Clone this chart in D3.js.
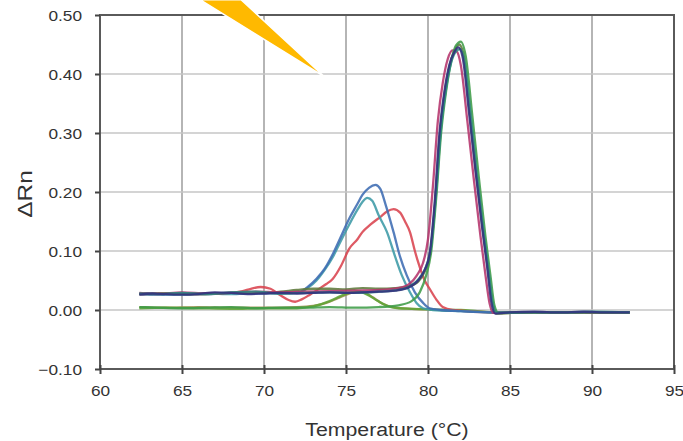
<!DOCTYPE html>
<html>
<head>
<meta charset="utf-8">
<script src="https://cdn.jsdelivr.net/npm/d3@7"></script>
<style>
  body { margin: 0; background: #fff; }
  svg text { font-family: "Liberation Sans", Arial, sans-serif; fill: #333; }
</style>
</head>
<body>
<div class="chart"></div>
<script>
// tick labels
const xTicks = [60, 65, 70, 75, 80, 85, 90, 95]
const yTicks = [-0.10, 0.00, 0.10, 0.20, 0.30, 0.40, 0.50]

// 高峰曲線 (specific product, Tm ~81.8)
const tempNavyBig = [62.4, 63.2, 64.0, 65.0, 66.0, 67.0, 68.0, 69.0, 70.0, 71.0, 72.0, 73.0, 74.0, 75.0, 76.0, 77.0, 78.0, 78.8, 79.4, 79.8, 80.1, 80.4, 80.7, 81.0, 81.3, 81.6, 81.85, 82.1, 82.5, 82.9, 83.3, 83.6, 83.85, 84.1, 85.0, 86.5, 88.0, 89.5, 91.0, 92.3]
const dRnNavyBig  = [0.026, 0.028, 0.027, 0.026, 0.027, 0.030, 0.029, 0.027, 0.028, 0.029, 0.028, 0.029, 0.030, 0.029, 0.030, 0.031, 0.033, 0.038, 0.050, 0.068, 0.095, 0.180, 0.300, 0.370, 0.415, 0.437, 0.445, 0.430, 0.335, 0.235, 0.140, 0.075, 0.015, -0.006, -0.004, -0.003, -0.004, -0.003, -0.004, -0.004]

const tempTealBig = [62.4, 63.5, 65.0, 66.5, 68.0, 69.5, 71.0, 72.5, 74.0, 75.5, 77.0, 78.2, 79.0, 79.5, 79.9, 80.2, 80.5, 80.8, 81.1, 81.4, 81.7, 81.95, 82.2, 82.6, 83.0, 83.4, 83.7, 83.95, 84.2, 86.0, 88.0, 90.0, 92.3]
const dRnTealBig  = [0.028, 0.027, 0.029, 0.027, 0.030, 0.031, 0.028, 0.029, 0.030, 0.029, 0.031, 0.034, 0.042, 0.055, 0.075, 0.110, 0.200, 0.310, 0.375, 0.418, 0.438, 0.442, 0.425, 0.330, 0.225, 0.130, 0.065, 0.010, -0.005, -0.004, -0.004, -0.003, -0.004]

const tempGreenBig = [62.4, 63.5, 65.0, 66.5, 68.0, 69.5, 71.0, 72.5, 74.0, 75.5, 77.0, 78.2, 79.0, 79.5, 79.9, 80.2, 80.5, 80.8, 81.1, 81.4, 81.7, 82.0, 82.3, 82.7, 83.1, 83.5, 83.8, 84.05, 84.3, 86.0, 88.0, 90.0, 92.3]
const dRnGreenBig  = [0.005, 0.004, 0.003, 0.004, 0.005, 0.003, 0.004, 0.004, 0.005, 0.004, 0.005, 0.008, 0.015, 0.030, 0.060, 0.100, 0.190, 0.300, 0.370, 0.420, 0.448, 0.455, 0.430, 0.330, 0.225, 0.125, 0.060, 0.008, -0.005, -0.004, -0.004, -0.004, -0.004]

const tempMagentaBig = [62.4, 63.5, 65.0, 66.5, 68.0, 69.5, 71.0, 72.5, 74.0, 75.5, 77.0, 78.2, 78.9, 79.3, 79.7, 80.0, 80.3, 80.6, 80.9, 81.2, 81.5, 81.75, 82.0, 82.4, 82.8, 83.2, 83.5, 83.75, 84.0, 86.0, 88.0, 90.0, 92.3]
const dRnMagentaBig  = [0.029, 0.027, 0.030, 0.028, 0.029, 0.031, 0.030, 0.031, 0.032, 0.033, 0.034, 0.037, 0.045, 0.058, 0.080, 0.120, 0.210, 0.320, 0.385, 0.425, 0.440, 0.438, 0.415, 0.320, 0.220, 0.125, 0.060, 0.012, -0.005, -0.004, -0.004, -0.004, -0.004]

const tempOliveBig = [62.4, 64.0, 66.0, 68.0, 70.0, 71.0, 72.0, 73.0, 74.0, 75.0, 76.0, 77.0, 78.0, 78.8, 79.4, 79.8, 80.1, 80.4, 80.7, 81.0, 81.3, 81.6, 81.9, 82.15, 82.5, 82.9, 83.3, 83.6, 83.9, 84.15, 86.0, 88.0, 90.0, 92.3]
const dRnOliveBig  = [0.027, 0.028, 0.027, 0.029, 0.029, 0.031, 0.034, 0.036, 0.036, 0.035, 0.037, 0.036, 0.037, 0.040, 0.048, 0.065, 0.090, 0.170, 0.290, 0.365, 0.412, 0.438, 0.450, 0.435, 0.345, 0.240, 0.145, 0.080, 0.018, -0.006, -0.004, -0.004, -0.004, -0.004]

// 低峰曲線 (primer-dimer, Tm ~76-78)
const tempBlueLow = [62.4, 63.5, 65.0, 66.5, 68.0, 69.5, 71.0, 72.2, 72.7, 73.2, 73.7, 74.2, 74.7, 75.2, 75.7, 76.0, 76.4, 76.8, 77.1, 77.4, 77.9, 78.3, 78.7, 79.2, 79.7, 80.1, 80.8, 82.0, 84.0, 86.0, 88.0, 90.0, 92.3]
const dRnBlueLow  = [0.027, 0.026, 0.028, 0.027, 0.029, 0.028, 0.030, 0.031, 0.040, 0.053, 0.070, 0.095, 0.125, 0.155, 0.180, 0.195, 0.207, 0.212, 0.205, 0.180, 0.132, 0.090, 0.059, 0.030, 0.012, 0.003, 0.000, -0.002, -0.004, -0.004, -0.004, -0.004, -0.004]

const tempTealLow = [62.4, 63.5, 65.0, 66.5, 68.0, 69.5, 71.0, 72.2, 72.7, 73.2, 73.7, 74.2, 74.7, 75.2, 75.7, 76.0, 76.3, 76.6, 77.0, 77.5, 78.0, 78.4, 78.9, 79.3, 79.7, 80.3, 82.0, 84.0, 86.0, 88.0, 90.0, 92.3]
const dRnTealLow  = [0.028, 0.027, 0.026, 0.028, 0.027, 0.029, 0.028, 0.030, 0.038, 0.050, 0.068, 0.090, 0.118, 0.145, 0.170, 0.183, 0.190, 0.185, 0.160, 0.132, 0.090, 0.059, 0.030, 0.012, 0.003, 0.000, -0.002, -0.004, -0.004, -0.004, -0.004, -0.004]

const tempRedLow = [62.4, 64.0, 66.0, 68.0, 68.7, 69.2, 69.8, 70.4, 71.0, 71.5, 71.9, 72.3, 72.8, 73.3, 73.8, 74.2, 74.7, 75.2, 75.7, 76.0, 76.5, 77.1, 77.5, 77.9, 78.3, 78.6, 78.9, 79.2, 79.4, 79.8, 80.1, 80.5, 80.9, 81.5, 84.0, 86.0, 88.0, 90.0, 92.3]
const dRnRedLow  = [0.027, 0.028, 0.027, 0.029, 0.032, 0.036, 0.039, 0.036, 0.025, 0.017, 0.014, 0.018, 0.026, 0.035, 0.044, 0.053, 0.075, 0.104, 0.120, 0.132, 0.145, 0.158, 0.167, 0.171, 0.165, 0.150, 0.132, 0.100, 0.081, 0.050, 0.036, 0.018, 0.005, 0.000, -0.004, -0.004, -0.004, -0.004, -0.004]

// 小峰 (low baseline with small hump near 75.7)
const tempGreenHump = [62.4, 64.0, 66.0, 68.0, 70.0, 72.0, 73.0, 74.0, 74.7, 75.3, 75.8, 76.3, 76.9, 77.5, 78.2, 79.0, 80.0, 81.0, 82.0, 83.0, 84.0, 86.0, 88.0, 90.0, 92.3]
const dRnGreenHump  = [0.003, 0.004, 0.003, 0.002, 0.003, 0.003, 0.006, 0.015, 0.024, 0.030, 0.031, 0.026, 0.016, 0.007, 0.003, 0.002, 0.001, 0.000, 0.000, -0.002, -0.004, -0.004, -0.004, -0.004, -0.004]

const tempTanHump = [62.4, 64.0, 66.0, 68.0, 70.0, 72.0, 73.0, 73.8, 74.5, 75.1, 75.6, 76.1, 76.6, 77.2, 78.0, 79.0, 80.0, 81.0, 82.0, 84.0, 86.0, 88.0, 90.0, 92.3]
const dRnTanHump  = [0.005, 0.004, 0.005, 0.004, 0.004, 0.005, 0.007, 0.012, 0.020, 0.027, 0.031, 0.030, 0.022, 0.011, 0.004, 0.002, 0.001, 0.000, -0.001, -0.004, -0.004, -0.004, -0.004, -0.004]

// 繪圖順序 + 顏色
const seriesNames  = ['tanHump', 'greenHump', 'redLow', 'tealLow', 'blueLow', 'oliveBig', 'magentaBig', 'greenBig', 'tealBig', 'navyBig']
const seriesTemps  = [tempTanHump, tempGreenHump, tempRedLow, tempTealLow, tempBlueLow, tempOliveBig, tempMagentaBig, tempGreenBig, tempTealBig, tempNavyBig]
const seriesValues = [dRnTanHump, dRnGreenHump, dRnRedLow, dRnTealLow, dRnBlueLow, dRnOliveBig, dRnMagentaBig, dRnGreenBig, dRnTealBig, dRnNavyBig]
const seriesColors = ['#9b8c4c', '#5fa535', '#d9434f', '#3c9aa6', '#3d6cb3', '#5f7a3c', '#b5346c', '#3f9c48', '#2b8a80', '#33307e']

const width = 683, height = 441
const svg = d3.select('.chart').append('svg')
  .attr('width', width)
  .attr('height', height)

const xScale = d3.scaleLinear().domain([60, 95]).range([100, 674])
const yScale = d3.scaleLinear().domain([-0.1, 0.5]).range([369, 15])

// 格線
svg.append('g')
  .selectAll('line')
  .data(xTicks.slice(1, -1))
  .join('line')
  .attr('x1', d => xScale(d)).attr('x2', d => xScale(d))
  .attr('y1', yScale(0.5)).attr('y2', yScale(-0.1))
  .attr('stroke', '#b5b5b5')
  .attr('stroke-width', 2)

svg.append('g')
  .selectAll('line')
  .data(yTicks.slice(1, -1))
  .join('line')
  .attr('x1', xScale(60)).attr('x2', xScale(95))
  .attr('y1', d => yScale(d)).attr('y2', d => yScale(d))
  .attr('stroke', '#c6c6c6')
  .attr('stroke-width', 1.5)

// 外框
svg.append('rect')
  .attr('x', xScale(60)).attr('y', yScale(0.5))
  .attr('width', xScale(95) - xScale(60))
  .attr('height', yScale(-0.1) - yScale(0.5))
  .attr('fill', 'none')
  .attr('stroke', '#5a5a5a')
  .attr('stroke-width', 2)

// 曲線
const line = d3.line()
  .x(d => xScale(d[0]))
  .y(d => yScale(d[1]))
  .curve(d3.curveMonotoneX)

svg.append('g')
  .selectAll('path')
  .data(seriesNames)
  .join('path')
  .attr('d', (d, i) => line(seriesTemps[i].map((t, j) => [t, seriesValues[i][j]])))
  .attr('fill', 'none')
  .attr('stroke', (d, i) => seriesColors[i])
  .attr('stroke-width', 2.3)
  .attr('stroke-opacity', 0.88)
  .attr('stroke-linejoin', 'round')

// X 軸
const xAxis = d3.axisBottom(xScale)
  .tickValues(xTicks)
  .tickFormat(d3.format('d'))
  .tickSize(5)

const xAxisGroup = svg.append('g')
  .attr('transform', `translate(0,${yScale(-0.1)})`)
  .call(xAxis)
xAxisGroup.select('.domain').remove()
xAxisGroup.selectAll('line').attr('y1', -4).attr('stroke', '#444').attr('stroke-width', 2)
xAxisGroup.selectAll('text')
  .attr('font-size', 15)
  .attr('y', 0)
  .attr('dy', 0)
  .attr('transform', 'translate(0,27) scale(1.15,1)')

// Y 軸
const yAxis = d3.axisLeft(yScale)
  .tickValues(yTicks)
  .tickFormat(d3.format('.2f'))
  .tickSize(5)

const yAxisGroup = svg.append('g')
  .attr('transform', `translate(${xScale(60)},0)`)
  .call(yAxis)
yAxisGroup.select('.domain').remove()
yAxisGroup.selectAll('line').attr('stroke', '#444').attr('stroke-width', 2)
yAxisGroup.selectAll('text')
  .attr('font-size', 15)
  .attr('x', 0)
  .attr('dy', '0.35em')
  .attr('transform', 'translate(-18,0) scale(1.15,1)')

svg.selectAll('.tick text').attr('fill', '#333')

// 軸標題
svg.append('text')
  .attr('transform', `translate(${(xScale(60) + xScale(95)) / 2},436) scale(1.12,1)`)
  .attr('text-anchor', 'middle')
  .attr('font-size', 19)
  .text('Temperature (°C)')

svg.append('text')
  .attr('transform', 'translate(32,194) rotate(-90) scale(1.22,1)')
  .attr('text-anchor', 'middle')
  .attr('font-size', 20)
  .text('ΔRn')

// 黃色指示箭頭
const pointer = [[66.1, 0.526], [68.6, 0.526], [73.7, 0.395]]
svg.append('polygon')
  .attr('points', pointer.map(p => [xScale(p[0]), yScale(p[1])].join(',')).join(' '))
  .attr('fill', '#ffb900')
  .attr('stroke', '#fff')
  .attr('stroke-width', 1.5)
</script>
</body>
</html>
